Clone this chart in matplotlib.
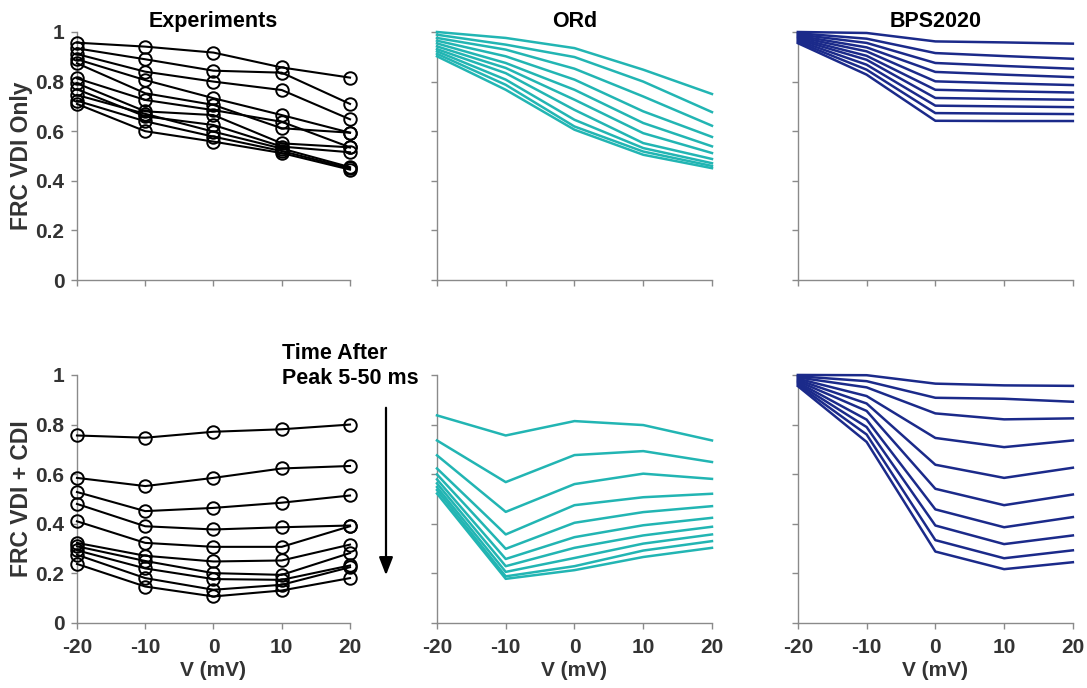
import matplotlib
matplotlib.use('Agg')
import matplotlib.pyplot as plt
import numpy as np

plt.rcParams['font.family'] = ['Liberation Sans', 'DejaVu Sans']
plt.rcParams['font.weight'] = 'bold'
plt.rcParams['axes.unicode_minus'] = False

V = [-20, -10, 0, 10, 20]     # mV

# experiments, VDI only (one row per cell)
exp_vdi = [
    [0.957, 0.941, 0.917, 0.857, 0.816],
    [0.934, 0.890, 0.844, 0.836, 0.710],
    [0.911, 0.840, 0.800, 0.766, 0.648],
    [0.890, 0.806, 0.733, 0.665, 0.594],
    [0.874, 0.753, 0.706, 0.612, 0.594],
    [0.813, 0.726, 0.685, 0.638, 0.535],
    [0.793, 0.680, 0.665, 0.551, 0.535],
    [0.769, 0.660, 0.625, 0.538, 0.515],
    [0.746, 0.670, 0.598, 0.530, 0.455],
    [0.723, 0.640, 0.578, 0.520, 0.450],
    [0.710, 0.600, 0.558, 0.512, 0.445],
]

# experiments, VDI + CDI
exp_cdi = [
    [0.756, 0.747, 0.771, 0.781, 0.800],
    [0.585, 0.552, 0.585, 0.623, 0.633],
    [0.528, 0.451, 0.464, 0.485, 0.514],
    [0.480, 0.390, 0.377, 0.386, 0.393],
    [0.410, 0.323, 0.307, 0.307, 0.390],
    [0.323, 0.271, 0.248, 0.252, 0.316],
    [0.309, 0.250, 0.201, 0.194, 0.282],
    [0.293, 0.220, 0.177, 0.174, 0.232],
    [0.275, 0.181, 0.134, 0.154, 0.225],
    [0.238, 0.147, 0.107, 0.131, 0.181],
]

# ORd model, time after peak 5-50 ms
ord_vdi = [
    [1.000, 0.976, 0.935, 0.848, 0.750],
    [0.989, 0.949, 0.899, 0.800, 0.677],
    [0.976, 0.929, 0.852, 0.740, 0.622],
    [0.965, 0.902, 0.808, 0.680, 0.577],
    [0.954, 0.875, 0.767, 0.633, 0.539],
    [0.942, 0.855, 0.727, 0.592, 0.512],
    [0.931, 0.834, 0.686, 0.552, 0.488],
    [0.922, 0.808, 0.646, 0.532, 0.471],
    [0.912, 0.787, 0.619, 0.518, 0.460],
    [0.902, 0.767, 0.606, 0.505, 0.451],
]
ord_cdi = [
    [0.837, 0.756, 0.814, 0.798, 0.736],
    [0.736, 0.568, 0.677, 0.693, 0.649],
    [0.676, 0.448, 0.560, 0.602, 0.581],
    [0.623, 0.357, 0.475, 0.507, 0.521],
    [0.599, 0.299, 0.404, 0.447, 0.471],
    [0.579, 0.258, 0.346, 0.394, 0.424],
    [0.563, 0.229, 0.303, 0.353, 0.388],
    [0.548, 0.206, 0.262, 0.320, 0.357],
    [0.536, 0.188, 0.229, 0.292, 0.330],
    [0.522, 0.178, 0.213, 0.266, 0.303],
]

# BPS2020 model
bps_vdi = [
    [1.000, 0.996, 0.962, 0.958, 0.953],
    [0.995, 0.973, 0.915, 0.903, 0.892],
    [0.990, 0.956, 0.875, 0.863, 0.852],
    [0.985, 0.938, 0.839, 0.828, 0.818],
    [0.980, 0.922, 0.801, 0.793, 0.786],
    [0.975, 0.904, 0.767, 0.761, 0.756],
    [0.970, 0.888, 0.734, 0.730, 0.727],
    [0.965, 0.868, 0.703, 0.700, 0.697],
    [0.960, 0.848, 0.673, 0.671, 0.669],
    [0.955, 0.828, 0.642, 0.641, 0.641],
]
bps_cdi = [
    [1.000, 0.999, 0.965, 0.958, 0.956],
    [0.995, 0.975, 0.908, 0.904, 0.892],
    [0.990, 0.950, 0.845, 0.821, 0.825],
    [0.985, 0.915, 0.746, 0.709, 0.736],
    [0.980, 0.885, 0.638, 0.585, 0.626],
    [0.975, 0.855, 0.541, 0.475, 0.518],
    [0.970, 0.820, 0.458, 0.386, 0.427],
    [0.965, 0.790, 0.393, 0.318, 0.353],
    [0.960, 0.760, 0.334, 0.261, 0.293],
    [0.955, 0.730, 0.288, 0.217, 0.245],
]

titles = ['Experiments', 'ORd', 'BPS2020']
ylabels = ['FRC VDI Only', 'FRC VDI + CDI']
teal = '#22b5b3'
navy = '#1b2a8a'
grey = '#8a8a8a'
txt = '#333333'

fig = plt.figure(figsize=(10.87, 6.88), dpi=100)
lefts = [0.0708, 0.402, 0.734]
widths = [0.2512, 0.253, 0.253]
bottoms = [0.593, 0.0945]
height = 0.3605

data = [[exp_vdi, ord_vdi, bps_vdi], [exp_cdi, ord_cdi, bps_cdi]]
for r in range(2):
    for c in range(3):
        ax = fig.add_axes([lefts[c], bottoms[r], widths[c], height])
        for row in data[r][c]:
            if c == 0:
                ax.plot(V, row, color='black', lw=1.5, marker='o', ms=9,
                        mfc='none', mec='black', mew=1.4, clip_on=False, zorder=3)
            else:
                ax.plot(V, row, color=teal if c == 1 else navy, lw=1.8,
                        clip_on=False, zorder=3)
        ax.set_xlim(-20, 20)
        ax.set_ylim(0, 1)
        ax.set_xticks(V)
        ax.set_yticks([0, 0.2, 0.4, 0.6, 0.8, 1])
        ax.set_yticklabels(['0', '0.2', '0.4', '0.6', '0.8', '1'])
        for s in ['top', 'right']:
            ax.spines[s].set_visible(False)
        for s in ['left', 'bottom']:
            ax.spines[s].set_color(grey)
            ax.spines[s].set_linewidth(1.0)
        ax.tick_params(direction='out', length=4, width=1, color=grey,
                       labelsize=15, labelcolor=txt, pad=5)
        ax.tick_params(axis='x', pad=7)
        if c > 0:
            ax.tick_params(labelleft=False)
        else:
            ax.set_ylabel(ylabels[r], fontsize=16.5, fontweight='bold', color=txt, labelpad=2)
        if r == 0:
            ax.tick_params(labelbottom=False)
            ax.set_title(titles[c], fontsize=15.5, fontweight='bold', pad=3)
        else:
            ax.set_xlabel('V (mV)', fontsize=15, fontweight='bold', color=txt, labelpad=3)

fig.text(282 / 1087, 1 - 366 / 688, 'Time After\nPeak 5-50 ms', fontsize=15.5,
         fontweight='bold', ha='left', va='center', linespacing=1.3)
fig.add_artist(matplotlib.patches.FancyArrowPatch(
    (386 / 1087, 1 - 405 / 688), (386 / 1087, 1 - 578 / 688),
    transform=fig.transFigure, arrowstyle='-|>,head_length=0.9,head_width=0.35',
    color='black', lw=1.6, mutation_scale=12))

fig.savefig('out.png', dpi=100)
